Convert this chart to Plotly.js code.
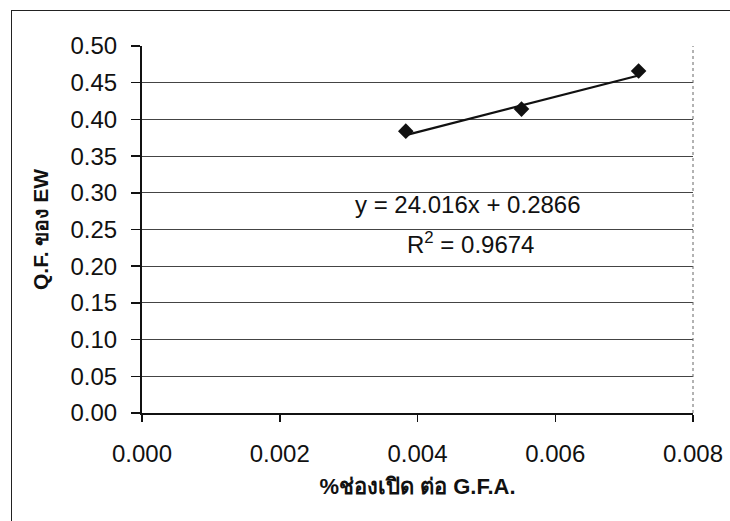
<!DOCTYPE html>
<html>
<head>
<meta charset="utf-8">
<script src="https://cdn.plot.ly/plotly-3.0.1.min.js"></script>
<style>
  html, body { margin: 0; padding: 0; background: #ffffff; }
  #wrap { position: relative; width: 730px; height: 521px; overflow: hidden; }
  #chart { position: absolute; left: 0; top: 0; width: 730px; height: 521px; }
  #frame { position: absolute; left: 11px; top: 10px; width: 760px; height: 560px;
           border-left: 1.5px solid #222; border-top: 1.5px solid #222; pointer-events: none; }
</style>
</head>
<body>
<div id="wrap">
  <div id="chart"></div>
  <div id="frame"></div>
</div>
<script>
// Data
const openingRatio = [0.00383, 0.00551, 0.00721];   // %ช่องเปิด ต่อ G.F.A.
const qfEW = [0.384, 0.414, 0.466];                  // Q.F. ของ EW
const trendSlope = 24.016;
const trendIntercept = 0.2866;
const rSquared = 0.9674;
const xTickVals = [0, 0.002, 0.004, 0.006, 0.008];
const xTickText = ['0.000', '0.002', '0.004', '0.006', '0.008'];
const yTickVals = [0, 0.05, 0.10, 0.15, 0.20, 0.25, 0.30, 0.35, 0.40, 0.45, 0.50];
const yTickText = ['0.00', '0.05', '0.10', '0.15', '0.20', '0.25', '0.30', '0.35', '0.40', '0.45', '0.50'];

const xMin = Math.min(...openingRatio), xMax = Math.max(...openingRatio);
const trendX = [xMin, xMax];
const trendY = trendX.map(x => trendSlope * x + trendIntercept);

const FONT = 'Arial, "Liberation Sans", "Noto Sans", sans-serif';

const traces = [
  {
    x: trendX, y: trendY, type: 'scatter', mode: 'lines',
    line: { color: '#111', width: 2.2 }, showlegend: false, hoverinfo: 'skip'
  },
  {
    x: openingRatio, y: qfEW, type: 'scatter', mode: 'markers',
    marker: { symbol: 'diamond', size: 12, color: '#111' }, showlegend: false
  }
];

const layout = {
  width: 730, height: 521,
  margin: { l: 142, r: 37, t: 46, b: 108 },
  paper_bgcolor: '#ffffff', plot_bgcolor: '#ffffff',
  font: { family: FONT, color: '#111', size: 24 },
  showlegend: false,
  xaxis: {
    range: [0, 0.008], tickvals: xTickVals, ticktext: xTickText,
    showgrid: false, zeroline: false,
    showline: true, linecolor: '#111', linewidth: 2,
    ticks: 'outside', ticklen: 7, tickwidth: 1.5, tickcolor: '#111',
    ticklabelstandoff: 11,
    tickfont: { family: FONT, size: 24, color: '#111' },
    title: { text: '<b>%ช่องเปิด ต่อ G.F.A.</b>', font: { family: FONT, size: 22, color: '#111' }, standoff: 13 },
    automargin: false
  },
  yaxis: {
    range: [0, 0.5], tickvals: yTickVals, ticktext: yTickText,
    showgrid: true, gridcolor: '#444', gridwidth: 1,
    zeroline: false,
    showline: true, linecolor: '#111', linewidth: 2,
    ticks: 'outside', ticklen: 9, tickwidth: 1.5, tickcolor: '#111',
    ticklabelstandoff: 9,
    tickfont: { family: FONT, size: 24, color: '#111' },
    title: { text: '<b>Q.F. ของ EW</b>', font: { family: FONT, size: 21, color: '#111' }, standoff: 16 },
    automargin: false
  },
  shapes: [
    { type: 'line', xref: 'paper', yref: 'paper', x0: 1, x1: 1, y0: 0, y1: 1,
      line: { color: '#666', width: 1, dash: 'dot' } }
  ],
  annotations: [
    { xref: 'paper', yref: 'paper', x: 0.5917, y: 0.567, xanchor: 'center', yanchor: 'middle',
      showarrow: false, text: 'y = ' + trendSlope.toFixed(3) + 'x + ' + trendIntercept.toFixed(4),
      font: { family: FONT, size: 24, color: '#111' } },
    { xref: 'paper', yref: 'paper', x: 0.597, y: 0.462, xanchor: 'center', yanchor: 'middle',
      showarrow: false, text: 'R<sup>2</sup> = ' + rSquared.toFixed(4),
      font: { family: FONT, size: 24, color: '#111' } }
  ]
};

Plotly.newPlot('chart', traces, layout, { staticPlot: true, displayModeBar: false });
</script>
</body>
</html>
